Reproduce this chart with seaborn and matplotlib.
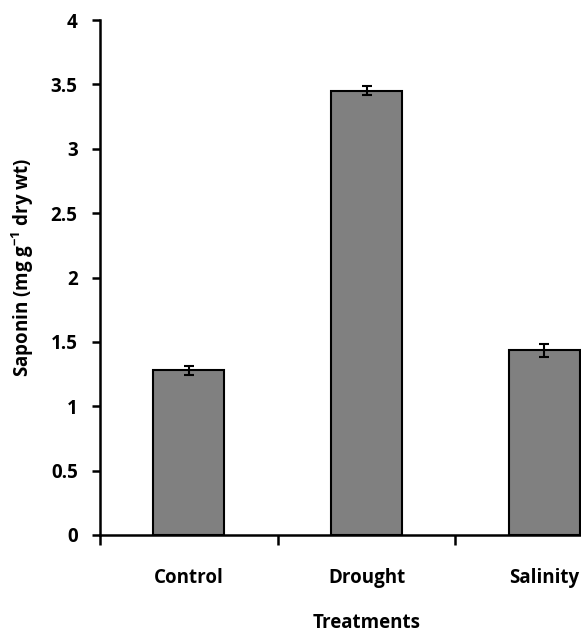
import matplotlib
matplotlib.use("Agg")
import matplotlib.pyplot as plt
import seaborn as sns
import pandas as pd
import numpy as np
from matplotlib.ticker import FixedLocator, FuncFormatter

categories = ["Control", "Drought", "Salinity"]
saponin = [1.28, 3.45, 1.435]
errors = [0.035, 0.035, 0.05]
yticks = [0, 0.5, 1, 1.5, 2, 2.5, 3, 3.5, 4]

sns.set_theme(style="white")
plt.rcParams['font.family'] = ['Open Sans', 'DejaVu Sans']

df = pd.DataFrame({"Treatment": categories, "Saponin": saponin})

fig = plt.figure(figsize=(5.81, 6.35), dpi=100)
ax = fig.add_axes([100/581, 100/635, 533/581, 515/635])

sns.barplot(data=df, x="Treatment", y="Saponin", order=categories,
            color="#808080", saturation=1, width=0.4,
            edgecolor="black", linewidth=1.5, errorbar=None, ax=ax)
for p in ax.patches:
    p.set_facecolor("#808080")

xpos = np.arange(len(categories))
ax.errorbar(xpos, saponin, yerr=errors, fmt="none", ecolor="black",
            elinewidth=1.5, capsize=3.3, capthick=1.5, zorder=5)

ax.set_xlim(-0.5, len(categories) - 0.5)
ax.set_ylim(0, 4)
ax.yaxis.set_major_locator(FixedLocator(yticks))
ax.yaxis.set_major_formatter(FuncFormatter(lambda v, p: f"{v:g}"))

FS = 13.5
ax.set_xticks(np.arange(-0.5, len(categories) - 0.5, 1.0))
ax.set_xticklabels([])
ax.set_xticks(xpos, minor=True)
ax.set_xticklabels(categories, minor=True)
ax.tick_params(axis="x", which="major", direction="out", length=7, width=1.8,
               color="black", bottom=True)
ax.tick_params(axis="x", which="minor", length=0, pad=24, labelsize=FS,
               labelcolor="black")
ax.tick_params(axis="y", direction="out", length=6, width=1.8, color="black",
               left=True, pad=10, labelsize=FS, labelcolor="black")
for lab in ax.get_xticklabels(minor=True) + ax.get_yticklabels():
    lab.set_fontweight("bold")

for s in ["top", "right"]:
    ax.spines[s].set_visible(False)
for s in ["left", "bottom"]:
    ax.spines[s].set_color("black")
    ax.spines[s].set_linewidth(1.8)

ax.set_xlabel("Treatments", fontsize=FS, fontweight="bold", color="black")
ax.xaxis.set_label_coords(0.5, -0.17)
ax.set_ylabel("Saponin (mg g$^{\\mathregular{-1}}$ dry wt)", fontsize=FS,
              fontweight="bold", color="black")
ax.yaxis.set_label_coords(-0.145, 0.52)
ax.yaxis.label.set_va("center")
ax.xaxis.label.set_va("center")

fig.savefig("out.png", dpi=100)
